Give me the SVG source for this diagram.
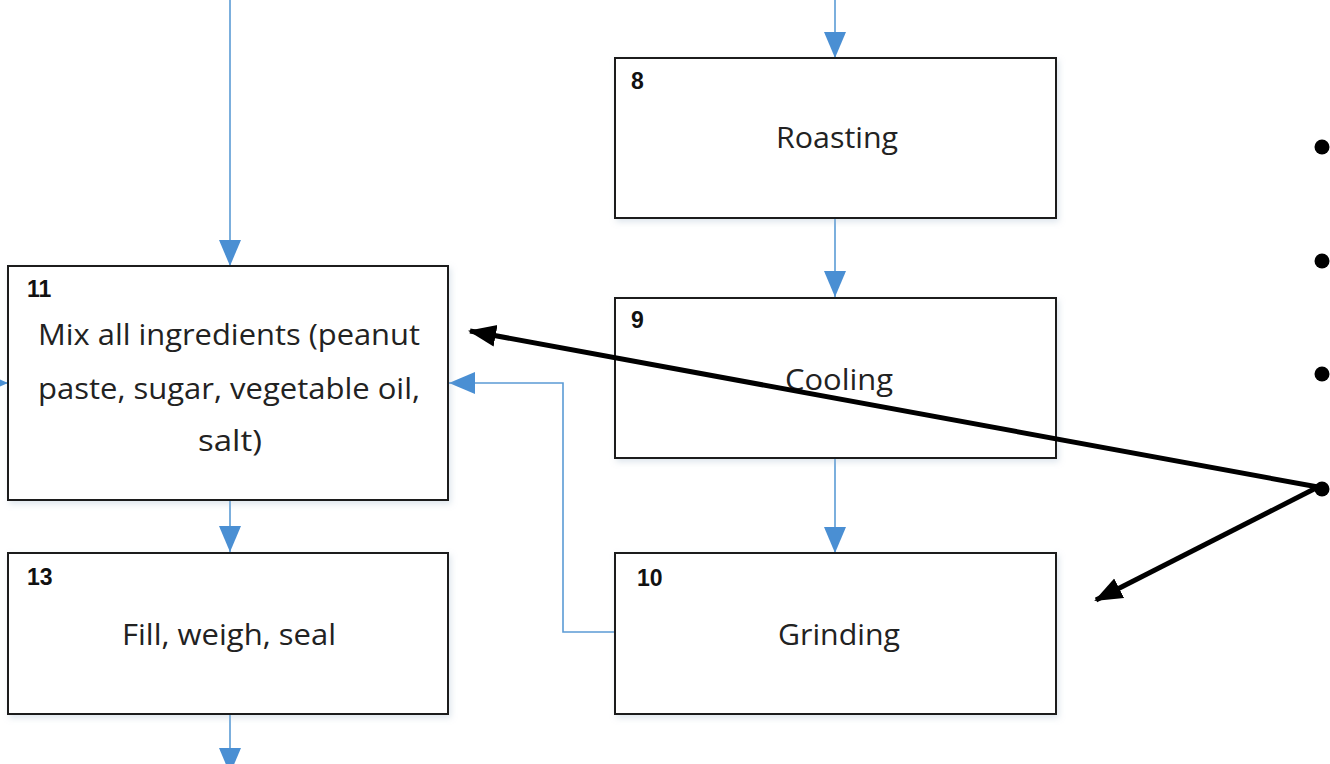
<svg xmlns="http://www.w3.org/2000/svg" width="1330" height="764" viewBox="0 0 1330 764">
  <style>
    .box { fill: #ffffff; stroke: #1a1a1a; stroke-width: 2; }
    .num { font-family: "Liberation Sans", Arial, sans-serif; font-weight: bold; font-size: 23px; fill: #111; }
    .lbl { font-family: "Open Sans", "Liberation Sans", sans-serif; font-size: 30px; fill: #222; text-anchor: middle; }
    .flow { fill: none; stroke: #5B9BD5; stroke-width: 1.6; }
    .note { fill: none; stroke: #000; stroke-width: 5; }
  </style>
  <defs>
    <marker id="blueHead" viewBox="0 0 26 24" refX="26" refY="12" markerWidth="26" markerHeight="24" markerUnits="userSpaceOnUse" orient="auto">
      <path d="M0,1 L26,12 L0,23 Z" fill="#4a8fd3"/>
    </marker>
    <marker id="blackHead" viewBox="0 0 28 24" refX="26" refY="12" markerWidth="28" markerHeight="24" markerUnits="userSpaceOnUse" orient="auto">
      <path d="M0,1 L28,12 L0,23 Z" fill="#000"/>
    </marker>
    <filter id="shadow" x="-5%" y="-5%" width="112%" height="115%">
      <feDropShadow dx="2" dy="3" stdDeviation="3" flood-color="#9fb6cc" flood-opacity="0.35"/>
    </filter>
  </defs>

  <rect width="1330" height="764" fill="#ffffff"/>

  <!-- flow connectors -->
  <g id="connectors">
    <line class="flow" x1="230" y1="0" x2="230" y2="266" marker-end="url(#blueHead)"/>
    <line class="flow" x1="230" y1="501" x2="230" y2="552" marker-end="url(#blueHead)"/>
    <line class="flow" x1="230" y1="714" x2="230" y2="774" marker-end="url(#blueHead)"/>
    <line class="flow" x1="835" y1="0" x2="835" y2="58" marker-end="url(#blueHead)"/>
    <line class="flow" x1="835" y1="219" x2="835" y2="297" marker-end="url(#blueHead)"/>
    <line class="flow" x1="835" y1="459" x2="835" y2="553" marker-end="url(#blueHead)"/>
    <polyline class="flow" points="615,632 563,632 563,383 449,383" marker-end="url(#blueHead)"/>
    <line class="flow" x1="-30" y1="383" x2="8" y2="383" marker-end="url(#blueHead)"/>
  </g>

  <g id="node-8">
    <rect class="box" x="615" y="58" width="441" height="160" filter="url(#shadow)"/>
    <text class="num" x="631" y="89">8</text>
    <text class="lbl" x="837" y="148" textLength="122" lengthAdjust="spacingAndGlyphs">Roasting</text>
  </g>

  <g id="node-9">
    <rect class="box" x="615" y="298" width="441" height="160" filter="url(#shadow)"/>
    <text class="num" x="631" y="328">9</text>
    <text class="lbl" x="839" y="390" textLength="108" lengthAdjust="spacingAndGlyphs">Cooling</text>
  </g>

  <g id="node-10">
    <rect class="box" x="615" y="553" width="441" height="161" filter="url(#shadow)"/>
    <text class="num" x="637" y="586">10</text>
    <text class="lbl" x="839" y="645" textLength="122" lengthAdjust="spacingAndGlyphs">Grinding</text>
  </g>

  <g id="node-11">
    <rect class="box" x="8" y="266" width="440" height="234" filter="url(#shadow)"/>
    <text class="num" x="27" y="297">11</text>
    <text class="lbl" x="229" y="345" textLength="382" lengthAdjust="spacingAndGlyphs">Mix all ingredients (peanut</text>
    <text class="lbl" x="229" y="399" textLength="382" lengthAdjust="spacingAndGlyphs">paste, sugar, vegetable oil,</text>
    <text class="lbl" x="230" y="451" textLength="64" lengthAdjust="spacingAndGlyphs">salt)</text>
  </g>

  <g id="node-13">
    <rect class="box" x="8" y="553" width="440" height="161" filter="url(#shadow)"/>
    <text class="num" x="27" y="585">13</text>
    <text class="lbl" x="229" y="645" textLength="214" lengthAdjust="spacingAndGlyphs">Fill, weigh, seal</text>
  </g>

  <!-- bullet points at the right margin -->
  <g id="bullets" fill="#000">
    <circle cx="1322" cy="147" r="7.5"/>
    <circle cx="1322" cy="261" r="7.5"/>
    <circle cx="1322" cy="374" r="7.5"/>
    <circle cx="1322" cy="489" r="7.5"/>
  </g>

  <!-- black pointer arrows -->
  <g id="pointers">
    <line class="note" x1="1318" y1="487" x2="470" y2="331" marker-end="url(#blackHead)"/>
    <line class="note" x1="1318" y1="487" x2="1096" y2="600" marker-end="url(#blackHead)"/>
  </g>
</svg>
